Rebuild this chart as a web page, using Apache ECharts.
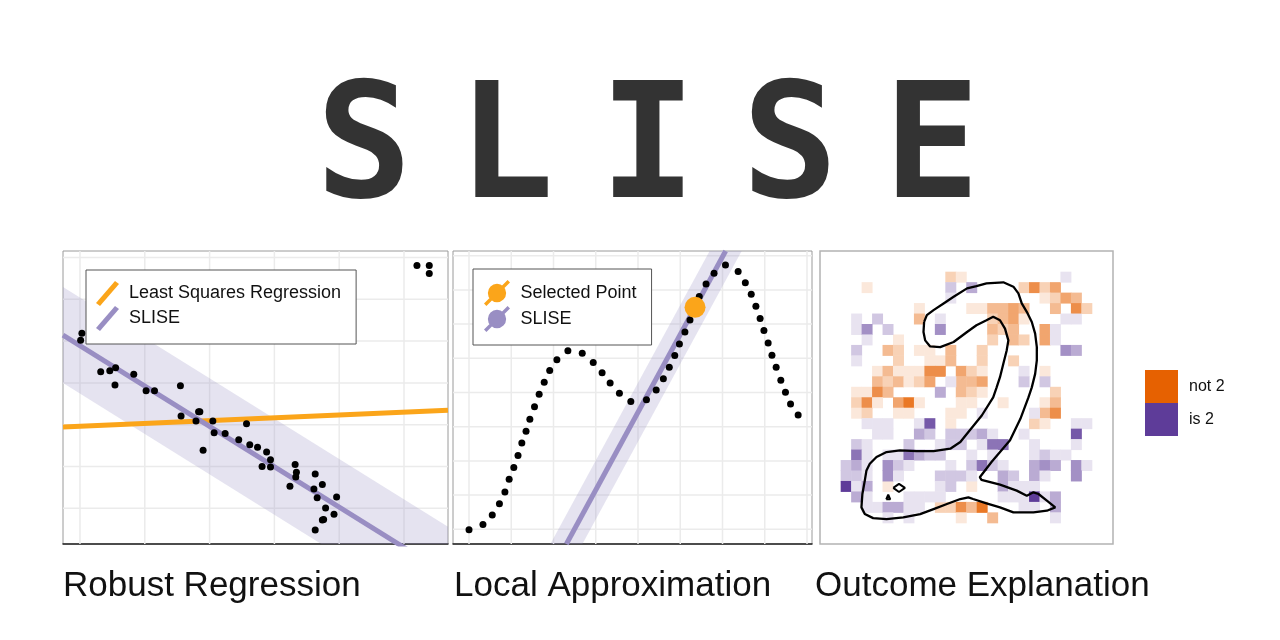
<!DOCTYPE html>
<html><head><meta charset="utf-8">
<script src="https://cdn.jsdelivr.net/npm/echarts@6/dist/echarts.min.js"></script>
<style>html,body{margin:0;padding:0;background:#fff}#chart{width:1280px;height:640px}</style>
</head><body><div id="chart"></div>
<script>
const mainTitle = 'SLISE';
const captions = ['Robust Regression', 'Local Approximation', 'Outcome Explanation'];

// ---- Panel 1: robust regression ----
const p1Points = [
  [5.20,5.81],[5.39,5.81],[5.39,5.62],
  [0.03,4.19],[0.01,4.02],
  [0.32,3.27],[0.46,3.29],[0.55,3.36],[0.54,2.95],[0.83,3.21],
  [1.02,2.81],[1.15,2.81],[1.55,2.93],[1.56,2.21],
  [1.79,2.09],[1.83,2.31],[1.85,2.31],[1.90,1.39],
  [2.05,2.09],[2.07,1.81],[2.24,1.79],[2.45,1.64],[2.57,2.02],
  [2.62,1.52],[2.74,1.46],[2.88,1.35],[2.94,1.16],[2.81,1.00],[2.94,0.99],
  [3.24,0.53],[3.32,1.05],[3.34,0.86],[3.33,0.75],
  [3.63,0.82],[3.61,0.46],[3.66,0.25],[3.74,0.57],[3.96,0.27],
  [3.79,0.01],[3.76,-0.27],[3.74,-0.28],[3.92,-0.14],[3.63,-0.52]
];
const p1LeastSquares = [[-0.262,1.947],[5.679,2.344]];
const p1Slise = [[-0.262,4.146],[5.679,-1.593]];
const p1Band = [[-0.262,5.296],[5.679,-0.443],[5.679,-2.743],[-0.262,2.996]];
const p1XRange = [-0.262, 5.679];
const p1YRange = [-0.854, 6.156];
const p1GridX = [0, 1, 2, 3, 4, 5];
const p1GridY = [0, 1, 2, 3, 4, 5, 6];

// ---- Panel 2: local approximation ----
const p2Points = [
  [0.00,-0.01],[0.33,0.14],[0.55,0.42],[0.72,0.75],[0.85,1.09],[0.95,1.46],
  [1.06,1.81],[1.16,2.16],[1.25,2.52],[1.35,2.87],[1.44,3.22],[1.55,3.58],
  [1.66,3.95],[1.78,4.30],[1.91,4.64],[2.08,4.96],[2.34,5.22],[2.68,5.15],
  [2.94,4.88],[3.15,4.58],[3.34,4.28],[3.56,3.98],[3.83,3.74],[4.20,3.79],
  [4.43,4.07],[4.60,4.40],[4.74,4.74],[4.87,5.08],[4.98,5.42],[5.11,5.77],
  [5.23,6.12],[5.35,6.49],[5.45,6.81],[5.61,7.17],[5.80,7.49],[6.07,7.73],
  [6.37,7.54],[6.54,7.21],[6.68,6.87],[6.79,6.52],[6.89,6.16],[6.98,5.81],
  [7.08,5.45],[7.17,5.09],[7.27,4.74],[7.38,4.36],[7.49,4.01],[7.61,3.66],
  [7.79,3.34]
];
const p2Selected = [[5.35,6.49]];
const p2Slise = [[2.305,-0.43],[6.074,8.137]];
const p2Band = [[1.926,-0.43],[5.695,8.137],[6.453,8.137],[2.684,-0.43]];
const p2XRange = [-0.379, 8.118];
const p2YRange = [-0.43, 8.137];
const p2GridX = [0, 1, 2, 3, 4, 5, 6, 7, 8];
const p2GridY = [0, 1, 2, 3, 4, 5, 6, 7, 8];

// ---- Panel 3: outcome explanation (28x28 grid; 1-7 = towards "not 2", a-g = towards "is 2") ----
const heatRows = [
  "............................",
  "............................",
  "............21.........a....",
  "....1.......b.c....2524.....",
  "............a........1243...",
  ".........1....113343..3.52..",
  "...a.b...3.a....2341...aa...",
  "...ad.b....d....323..4a.....",
  "....a..1........2.32.4a.....",
  "...b..32.11.3..2.......dc...",
  "...a...2..113..2..2.........",
  ".....1311155.421...a.1......",
  ".....323124.a334...b.b......",
  "...1153....c.321......2.....",
  "...251.461...11..1...13.....",
  "...12..11...11.a....a35.....",
  "....aaa..af.1.......21..aa..",
  ".....aa..cb.bbbca..a....f...",
  "...ba...b..abb.aee..a...a...",
  "...ea.aaecbb..a.a...abaa....",
  "..bca.dba...a.beba..cdc.da..",
  "..bba.da...bbba..cb.ca..d...",
  "..gac.1....ab.1..caaa.......",
  "...ca...aaaa.....aaagac.....",
  "....aaccaa.22536...aa.c.....",
  "......a.a....1..3.....a.....",
  "............................",
  "............................"
];
const heatIndex = ['0','1','2','3','4','5','6','7','8','9','10','11','12','13','14','15','16','17','18','19','20','21','22','23','24','25','26','27'];
const digitContour = [
  [9.95,6.78],[10.21,6.13],[10.85,5.65],[11.81,5.01],[12.77,4.37],[14.05,3.57],[14.95,3.35],
  [15.91,3.09],[17.52,2.99],[18.48,3.41],[18.96,4.05],[19.28,5.01],[19.76,5.81],[20.24,6.78],
  [20.56,7.90],[20.72,9.18],[20.72,10.46],[20.56,11.74],[20.24,13.03],[19.92,13.99],[19.15,16.04],
  [18.16,18.09],[16.39,20.17],[15.27,21.62],[15.43,21.87],[17.20,22.32],[18.80,22.90],[19.76,23.38],
  [20.40,23.06],[20.88,23.22],[21.68,23.86],[22.48,24.50],[21.68,24.82],[20.40,24.98],[18.48,24.98],
  [17.20,24.50],[15.91,24.12],[14.63,23.70],[14.18,23.54],[13.41,23.70],[12.13,24.18],[10.85,24.66],
  [9.57,25.14],[7.96,25.46],[6.36,25.62],[5.08,25.53],[4.28,25.14],[3.96,24.50],[4.05,23.22],
  [4.28,21.94],[4.44,20.97],[4.76,20.33],[5.40,19.69],[6.36,19.21],[7.64,19.05],[9.25,19.12],
  [10.85,19.12],[12.45,18.89],[13.41,18.25],[14.18,17.29],[15.46,15.72],[16.55,13.99],[16.88,13.03],
  [17.20,12.06],[17.52,10.78],[17.84,9.50],[18.00,8.54],[17.68,7.42],[17.20,6.62],[16.55,6.29],
  [15.91,6.62],[14.95,7.10],[14.05,7.74],[12.77,8.70],[11.49,9.18],[10.53,9.12],[10.05,8.54],
  [9.89,7.74],[9.95,6.78]
];
const contourIsland1 = [[7.00,22.64],[7.55,22.26],[8.12,22.64],[7.55,23.03],[7.00,22.64]];
const contourIsland2 = [[6.33,23.73],[6.52,23.28],[6.71,23.73],[6.52,23.86],[6.33,23.73]];

const heatNot2 = [], heatIs2 = [];
heatRows.forEach((row, r) => {
  row.split('').forEach((ch, c) => {
    if (ch >= '1' && ch <= '9') heatNot2.push([c, r, Number(ch)]);
    else if (ch >= 'a' && ch <= 'i') heatIs2.push([c, r, -(ch.charCodeAt(0) - 96)]);
  });
});

const ORANGE = '#fba51a', PURPLE = '#998ec3', GRIDC = '#ebebeb';
const lineIcon = 'path://M0,22 L19,0 L23,3 L4,25 Z';
const pointLineIcon = 'path://M4,13.5 A9.5,9.5 0 1,1 23,13.5 A9.5,9.5 0 1,1 4,13.5 Z M0,24.5 L24.5,0 L27,2.5 L2.5,27 Z';
const capStyle = { fontFamily: 'Liberation Sans', fontSize: 35, fontWeight: 'normal', color: '#111', lineHeight: 40 };
const legText = { fontFamily: 'Liberation Sans', fontSize: 18, color: '#111', padding: [0, 0, 0, 5] };

function bandRender(poly) {
  return function (params, api) {
    if (params.dataIndex !== 0) return null;
    return { type: 'polygon', shape: { points: poly.map(p => api.coord(p)) }, style: { fill: PURPLE, opacity: 0.25 } };
  };
}
function vGridRender(params, api) {
  const x = api.coord([api.value(0), api.value(1)])[0];
  const cs = params.coordSys;
  return { type: 'line', shape: { x1: x, y1: cs.y, x2: x, y2: cs.y + cs.height }, style: { stroke: GRIDC, lineWidth: 1.5 } };
}
function hGridRender(params, api) {
  const y = api.coord([api.value(0), api.value(1)])[1];
  const cs = params.coordSys;
  return { type: 'line', shape: { x1: cs.x, y1: y, x2: cs.x + cs.width, y2: y }, style: { stroke: GRIDC, lineWidth: 1.5 } };
}
function gridLineSeries(idx, gx, gy, xr, yr) {
  return [
    { name: 'grid-x-' + idx, type: 'custom', xAxisIndex: idx, yAxisIndex: idx, silent: true, z: 1,
      data: gx.map(v => [v, yr[0]]), renderItem: vGridRender },
    { name: 'grid-y-' + idx, type: 'custom', xAxisIndex: idx, yAxisIndex: idx, silent: true, z: 1,
      data: gy.map(v => [xr[0], v]), renderItem: hGridRender }
  ];
}
function valAxis(grid, range, bottomLine) {
  return { gridIndex: grid, type: 'value', min: range[0], max: range[1],
    axisLabel: { show: false }, axisTick: { show: false }, splitLine: { show: false },
    axisLine: bottomLine ? { show: true, onZero: false, lineStyle: { color: '#222', width: 1.5 } } : { show: false } };
}

const series = [].concat(
  gridLineSeries(0, p1GridX, p1GridY, p1XRange, p1YRange),
  gridLineSeries(1, p2GridX, p2GridY, p2XRange, p2YRange),
  [
    { name: 'SLISE band', type: 'custom', xAxisIndex: 0, yAxisIndex: 0, clip: true, silent: true, z: 2,
      data: p1Band, renderItem: bandRender(p1Band) },
    { name: 'Least Squares Regression', type: 'line', xAxisIndex: 0, yAxisIndex: 0, data: p1LeastSquares, symbol: 'none',
      lineStyle: { color: ORANGE, width: 5 }, itemStyle: { color: ORANGE }, silent: true, z: 3 },
    { name: 'SLISE', type: 'line', xAxisIndex: 0, yAxisIndex: 0, data: p1Slise, symbol: 'none',
      lineStyle: { color: PURPLE, width: 5 }, itemStyle: { color: PURPLE }, silent: true, z: 3 },
    { name: 'Data', type: 'scatter', xAxisIndex: 0, yAxisIndex: 0, data: p1Points, symbolSize: 7,
      itemStyle: { color: '#000', opacity: 1 }, silent: true, z: 4 },

    { name: 'SLISE band 2', type: 'custom', xAxisIndex: 1, yAxisIndex: 1, clip: true, silent: true, z: 2,
      data: p2Band, renderItem: bandRender(p2Band) },
    { name: 'SLISE', type: 'line', xAxisIndex: 1, yAxisIndex: 1, data: p2Slise, symbol: 'none',
      lineStyle: { color: PURPLE, width: 5 }, itemStyle: { color: PURPLE }, silent: true, z: 3 },
    { name: 'Curve', type: 'scatter', xAxisIndex: 1, yAxisIndex: 1, data: p2Points, symbolSize: 7,
      itemStyle: { color: '#000', opacity: 1 }, silent: true, z: 4 },
    { name: 'Selected Point', type: 'scatter', xAxisIndex: 1, yAxisIndex: 1, data: p2Selected, symbolSize: 21,
      itemStyle: { color: ORANGE, opacity: 1 }, silent: true, z: 5 },

    { name: 'not 2', type: 'heatmap', xAxisIndex: 2, yAxisIndex: 2, data: heatNot2, itemStyle: { color: '#e66101' }, silent: true },
    { name: 'is 2', type: 'heatmap', xAxisIndex: 2, yAxisIndex: 2, data: heatIs2, itemStyle: { color: '#5e3c99' }, silent: true },
    { name: 'Outline', type: 'line', xAxisIndex: 3, yAxisIndex: 3, data: digitContour, symbol: 'none',
      lineStyle: { color: '#000', width: 2.3 }, silent: true, z: 5 },
    { name: 'Outline 2', type: 'line', xAxisIndex: 3, yAxisIndex: 3, data: contourIsland1, symbol: 'none',
      lineStyle: { color: '#000', width: 2 }, silent: true, z: 5 },
    { name: 'Outline 3', type: 'line', xAxisIndex: 3, yAxisIndex: 3, data: contourIsland2, symbol: 'none',
      lineStyle: { color: '#000', width: 2 }, silent: true, z: 5 }
  ]
);
const heatSeriesIdx = [series.findIndex(s => s.name === 'not 2'), series.findIndex(s => s.name === 'is 2')];

const option = {
  animation: false,
  backgroundColor: '#ffffff',
  title: [
    { text: mainTitle.split('').map(ch => '{l|' + ch + '}').join(''), left: 293, top: 75, padding: 0,
      textStyle: { rich: { l: { width: 142, align: 'center', fontFamily: 'DejaVu Sans Mono', fontWeight: 'bold', fontSize: 160, lineHeight: 160, color: '#333333' } } } },
    { text: captions[0], left: 63, top: 566, padding: 0, textStyle: capStyle },
    { text: captions[1], left: 454, top: 566, padding: 0, textStyle: capStyle },
    { text: captions[2], left: 815, top: 566, padding: 0, textStyle: capStyle }
  ],
  grid: [
    { left: 63, top: 251, width: 385, height: 293, show: true, borderColor: '#9a9a9a', borderWidth: 1 },
    { left: 453, top: 251, width: 359, height: 293, show: true, borderColor: '#9a9a9a', borderWidth: 1 },
    { left: 820, top: 251, width: 293, height: 293, show: false },
    { left: 820, top: 251, width: 293, height: 293, show: true, borderColor: '#b3b3b3', borderWidth: 1.5 }
  ],
  xAxis: [
    valAxis(0, p1XRange, true), valAxis(1, p2XRange, true),
    { gridIndex: 2, type: 'category', data: heatIndex, show: false },
    { gridIndex: 3, type: 'value', min: 0, max: 28, show: false, splitLine: { show: false } }
  ],
  yAxis: [
    valAxis(0, p1YRange, false), valAxis(1, p2YRange, false),
    { gridIndex: 2, type: 'category', data: heatIndex, inverse: true, show: false },
    { gridIndex: 3, type: 'value', min: 0, max: 28, inverse: true, show: false, splitLine: { show: false } }
  ],
  visualMap: { show: false, type: 'continuous', min: -7, max: 7, dimension: 2, seriesIndex: heatSeriesIdx,
    inRange: { color: ['#5e3c99', '#ffffff', '#e66101'] } },
  legend: [
    { left: 86, top: 270, orient: 'vertical', padding: [11, 15, 13, 10], itemGap: 0, itemWidth: 23, itemHeight: 25,
      borderColor: '#555', borderWidth: 1, backgroundColor: '#fff', selectedMode: false, z: 10, textStyle: legText,
      data: [{ name: 'Least Squares Regression', icon: lineIcon }, { name: 'SLISE', icon: lineIcon }] },
    { left: 473, top: 269, orient: 'vertical', padding: [11, 15, 13, 11], itemGap: 0, itemWidth: 27, itemHeight: 26,
      borderColor: '#555', borderWidth: 1, backgroundColor: '#fff', selectedMode: false, z: 10, textStyle: legText,
      itemStyle: { opacity: 1 },
      data: [{ name: 'Selected Point', icon: pointLineIcon }, { name: 'SLISE', icon: pointLineIcon }] },
    { left: 1145, top: 370, orient: 'vertical', padding: 0, itemGap: 0, itemWidth: 33, itemHeight: 33,
      selectedMode: false, icon: 'rect', textStyle: { fontFamily: 'Liberation Sans', fontSize: 16, color: '#111', padding: [0, 0, 0, 6] },
      data: ['not 2', 'is 2'] }
  ],
  series: series
};
const chart = echarts.init(document.getElementById('chart'), null, { renderer: 'canvas' });
chart.setOption(option);
</script></body></html>
